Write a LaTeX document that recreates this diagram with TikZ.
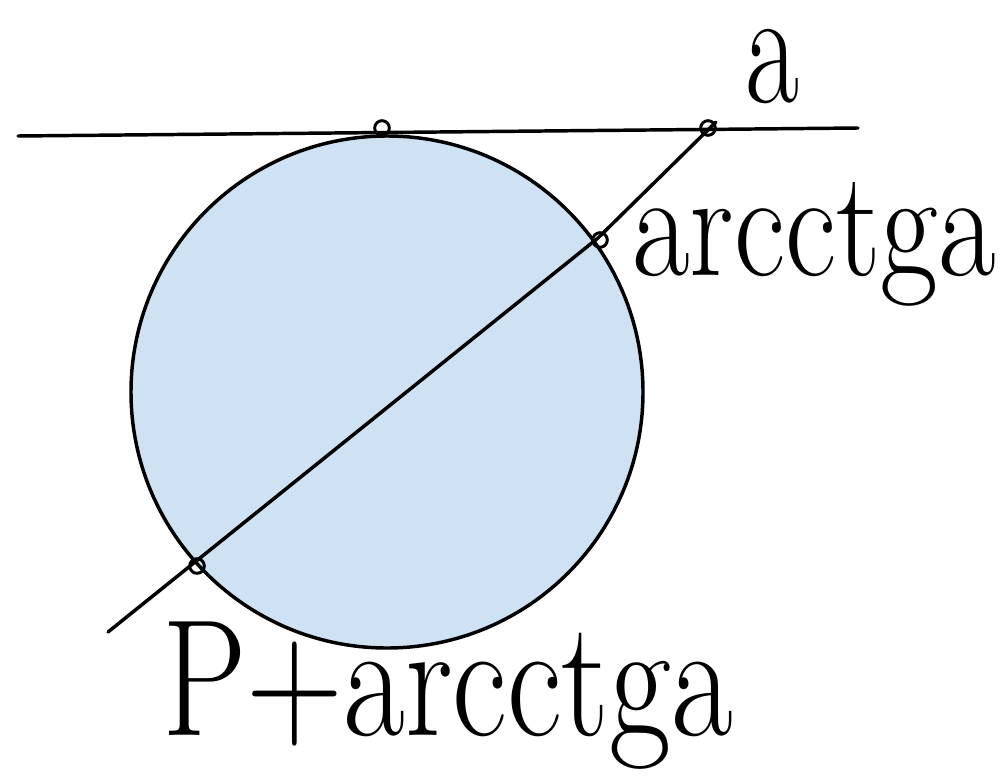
\documentclass[tikz,border=0pt]{standalone}
\begin{document}
\begin{tikzpicture}[x=0.75pt,y=-0.75pt,
  stroke/.style={line width=2.6pt,line cap=round,line join=round},
  dotmark/.style={draw,circle,line width=2.2pt,inner sep=0pt,minimum size=11pt},
  lbl/.style={inner sep=0pt,font=\fontsize{84}{90}\selectfont,yscale=1.35}]
\useasboundingbox (0,0) rectangle (1002,778);
\definecolor{fillblue}{HTML}{CFE2F3}
% circle
\node[draw,circle,stroke,fill=fillblue,minimum size=512*0.75pt,inner sep=0pt] (c) at (387,392) {};
% tangent line
\coordinate (t1) at (18,136);
\coordinate (t2) at (858,128);
\draw[stroke] (t1) -- (t2);
% secant line
\coordinate (s1) at (108,632);
\coordinate (s2) at (598,238);
\coordinate (s3) at (716,122);
\draw[stroke] (s1) -- (s2) -- (s3);
% point markers
\node[dotmark] (p1) at (382,128) {};
\node[dotmark] (p2) at (708,128) {};
\node[dotmark] (p3) at (600,240) {};
\node[dotmark] (p4) at (197,566) {};
% labels
\node[lbl,anchor=base,font=\fontsize{80}{90}\selectfont,yscale=1.15,xscale=1.1] (la) at (772,102) {a};
\node[lbl,anchor=base west,xscale=1.12] (l1) at (632,275) {arcctga};
\node[lbl,anchor=base west,xscale=1.2,yscale=1.1] (l2) at (162,735) {P+arcctga};
\end{tikzpicture}
\end{document}
